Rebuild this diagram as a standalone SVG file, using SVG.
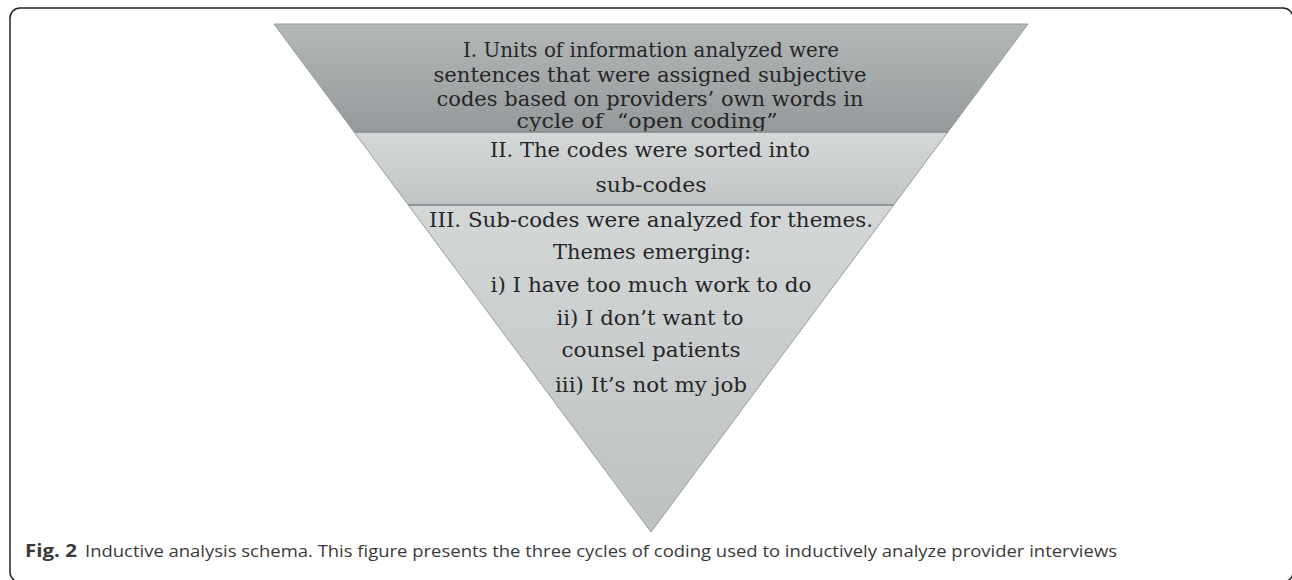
<svg xmlns="http://www.w3.org/2000/svg" width="1292" height="580" viewBox="0 0 1292 580">
  <defs>
    <linearGradient id="g1" x1="0" y1="0" x2="0" y2="1">
      <stop offset="0" stop-color="#b3b7b8"/>
      <stop offset="1" stop-color="#949a9b"/>
    </linearGradient>
    <linearGradient id="g2" x1="0" y1="0" x2="0" y2="1">
      <stop offset="0" stop-color="#d5d8d8"/>
      <stop offset="1" stop-color="#c1c5c6"/>
    </linearGradient>
    <linearGradient id="g3" x1="0" y1="0" x2="0" y2="1">
      <stop offset="0" stop-color="#d4d7d8"/>
      <stop offset="1" stop-color="#bdc1c2"/>
    </linearGradient>
  </defs>
  <style>
    .band { stroke: #979c9d; stroke-width: 1; }
    .div { stroke: #8a8f90; stroke-width: 1.5; fill: none; }
    .t { font-family: "DejaVu Serif", "Liberation Serif", serif; font-size: 20px; fill: #262626; text-anchor: middle; }
    .cap { font-family: "Open Sans", "Liberation Sans", sans-serif; font-size: 17px; fill: #3a3a3a; }
  </style>
  <rect x="10" y="8" width="1283" height="574" rx="10" fill="#ffffff" stroke="#222222" stroke-width="1.5"/>

  <g id="band1">
    <polygon class="band" points="274,24 1028,24 947.9,132 354.1,132" fill="url(#g1)"/>
    <text class="t" x="651" y="57" textLength="376" lengthAdjust="spacingAndGlyphs">I. Units of information analyzed were</text>
    <text class="t" x="650" y="82" textLength="433" lengthAdjust="spacingAndGlyphs">sentences that were assigned subjective</text>
    <text class="t" x="650" y="106" textLength="427" lengthAdjust="spacingAndGlyphs">codes based on providers’ own words in</text>
    <text class="t" x="647" y="128" textLength="261" lengthAdjust="spacingAndGlyphs" xml:space="preserve">cycle of  “open coding”</text>
  </g>

  <g id="band2">
    <polygon class="band" points="354.1,132 947.9,132 893.7,205 408.3,205" fill="url(#g2)"/>
    <text class="t" x="650" y="157" textLength="320" lengthAdjust="spacingAndGlyphs">II. The codes were sorted into</text>
    <text class="t" x="651" y="192" textLength="111" lengthAdjust="spacingAndGlyphs">sub-codes</text>
  </g>

  <g id="band3">
    <polygon class="band" points="408.3,205 893.7,205 651,532" fill="url(#g3)"/>
    <text class="t" x="651" y="227" textLength="444" lengthAdjust="spacingAndGlyphs">III. Sub-codes were analyzed for themes.</text>
    <text class="t" x="652" y="259" textLength="198" lengthAdjust="spacingAndGlyphs">Themes emerging:</text>
    <text class="t" x="651" y="292" textLength="321" lengthAdjust="spacingAndGlyphs">i) I have too much work to do</text>
    <text class="t" x="650" y="325" textLength="187" lengthAdjust="spacingAndGlyphs">ii) I don’t want to</text>
    <text class="t" x="651" y="357" textLength="179" lengthAdjust="spacingAndGlyphs">counsel patients</text>
    <text class="t" x="651" y="392" textLength="192" lengthAdjust="spacingAndGlyphs">iii) It’s not my job</text>
  </g>

  <g id="connectors">
    <line class="div" x1="354.1" y1="132" x2="947.9" y2="132"/>
    <line class="div" x1="408.3" y1="205" x2="893.7" y2="205"/>
  </g>

  <g id="caption">
    <text class="cap" x="25" y="557" font-weight="bold" textLength="52" lengthAdjust="spacingAndGlyphs">Fig. 2</text>
    <text class="cap" x="85" y="557" textLength="1032" lengthAdjust="spacingAndGlyphs">Inductive analysis schema. This figure presents the three cycles of coding used to inductively analyze provider interviews</text>
  </g>
</svg>
